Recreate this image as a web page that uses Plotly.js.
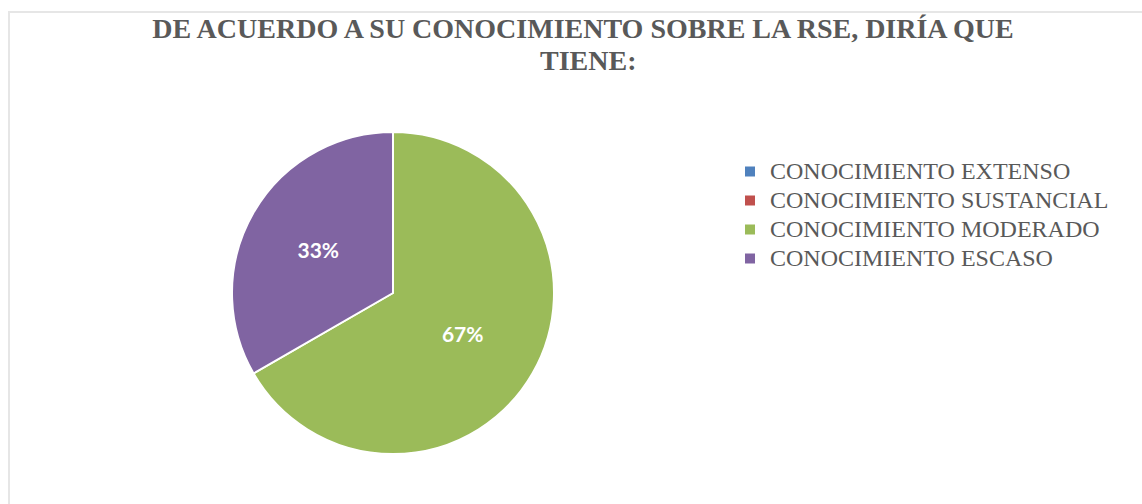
<!DOCTYPE html>
<html>
<head>
<meta charset="utf-8">
<script src="https://cdn.plot.ly/plotly-3.0.1.min.js"></script>
<style>
html,body{margin:0;padding:0;background:#fff;overflow:hidden;}
#frame{position:absolute;left:8px;top:11px;width:1200px;height:600px;border-left:2px solid #e6e6e6;border-top:2px solid #e6e6e6;box-sizing:border-box;}
#chart{position:absolute;left:0;top:0;width:1142px;height:504px;}
</style>
</head>
<body>
<div id="frame"></div>
<div id="chart"></div>
<script>
const categories = ["CONOCIMIENTO EXTENSO", "CONOCIMIENTO SUSTANCIAL", "CONOCIMIENTO MODERADO", "CONOCIMIENTO ESCASO"];
const values = [0, 0, 2, 1];
const colors = ["#4F81BD", "#C0504D", "#9BBB59", "#8064A2"];
const titleLine1 = "DE ACUERDO A SU CONOCIMIENTO SOBRE LA RSE, DIRÍA QUE";
const titleLine2 = "TIENE:";

const W = 1142, H = 504;
const cx = 393, cy = 293, r = 161;
const serif = "'Liberation Serif', 'Times New Roman', serif";

const trace = {
  type: "pie",
  labels: categories.map(c => '<span style="font-size:24px">' + c + '</span>'),
  values: values,
  sort: false,
  direction: "clockwise",
  rotation: 0,
  marker: {colors: colors, line: {color: "#ffffff", width: 2}},
  textinfo: "percent",
  texttemplate: "%{percent:.0%}",
  textposition: "inside",
  insidetextorientation: "horizontal",
  insidetextfont: {family: "Lato, 'Open Sans', sans-serif", size: 21, color: "#ffffff", weight: "bold"},
  hoverinfo: "label+percent",
  showlegend: true,
  domain: {x: [(cx - r) / W, (cx + r) / W], y: [(H - cy - r) / H, (H - cy + r) / H]}
};

const layout = {
  width: W, height: H,
  margin: {l: 0, r: 0, t: 0, b: 0},
  paper_bgcolor: "rgba(0,0,0,0)",
  plot_bgcolor: "rgba(0,0,0,0)",
  title: {
    text: titleLine1,
    font: {family: serif, size: 28, color: "#595959", weight: "bold"},
    x: 583 / W, xanchor: "center",
    y: 1 - 28 / H, yanchor: "middle", yref: "container"
  },
  annotations: [{
    text: titleLine2,
    showarrow: false,
    xref: "paper", yref: "paper",
    x: 588 / W, xanchor: "center",
    y: 1 - 60 / H, yanchor: "middle",
    font: {family: serif, size: 28, color: "#595959", weight: "bold"}
  }],
  legend: {
    x: 730 / W, xanchor: "left",
    y: 1 - 215 / H, yanchor: "middle",
    font: {family: serif, size: 20, color: "#595959"},
    itemwidth: 30,
    tracegroupgap: 0,
    traceorder: "normal"
  },
  showlegend: true
};

Plotly.newPlot("chart", [trace], layout, {displayModeBar: false, staticPlot: true});
</script>
</body>
</html>
